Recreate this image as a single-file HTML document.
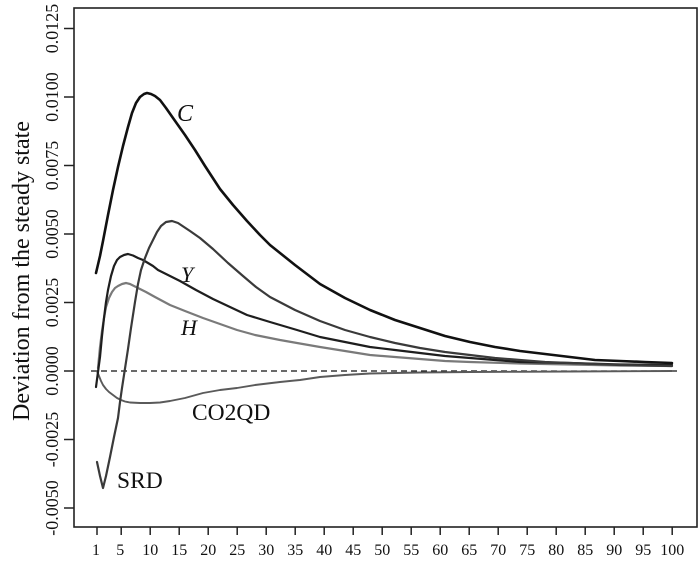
<!DOCTYPE html>
<html><head><meta charset="utf-8"><style>
html,body{margin:0;padding:0;background:#fff;}
svg{display:block;}
text{font-family:"Liberation Serif","Times New Roman",serif;fill:#111;}
</style></head><body>
<svg width="700" height="564" viewBox="0 0 700 564" xmlns="http://www.w3.org/2000/svg">
<rect x="0" y="0" width="700" height="564" fill="#fff"/>
<!-- box -->
<rect x="74" y="8" width="623" height="519" fill="none" stroke="#222" stroke-width="1.6"/>
<!-- y ticks -->
<g stroke="#222" stroke-width="1.5">
<line x1="64" y1="28.5" x2="74" y2="28.5"/>
<line x1="64" y1="97" x2="74" y2="97"/>
<line x1="64" y1="165.5" x2="74" y2="165.5"/>
<line x1="64" y1="234" x2="74" y2="234"/>
<line x1="64" y1="302.5" x2="74" y2="302.5"/>
<line x1="64" y1="371" x2="74" y2="371"/>
<line x1="64" y1="439.5" x2="74" y2="439.5"/>
<line x1="64" y1="508" x2="74" y2="508"/>
</g>
<g font-size="18" text-anchor="middle">
<text transform="translate(58,28.5) rotate(-90)">0.0125</text>
<text transform="translate(58,97) rotate(-90)">0.0100</text>
<text transform="translate(58,165.5) rotate(-90)">0.0075</text>
<text transform="translate(58,234) rotate(-90)">0.0050</text>
<text transform="translate(58,302.5) rotate(-90)">0.0025</text>
<text transform="translate(58,371) rotate(-90)">0.0000</text>
<text transform="translate(58,439.5) rotate(-90)">-0.0025</text>
<text transform="translate(58,508) rotate(-90)">-0.0050</text>
</g>
<text font-size="24" text-anchor="middle" transform="translate(29,271) rotate(-90)">Deviation from the steady state</text>
<!-- x ticks -->
<g stroke="#222" stroke-width="1.5">
<line x1="97" y1="527" x2="97" y2="535"/>
<line x1="121.2" y1="527" x2="121.2" y2="535"/>
<line x1="150.2" y1="527" x2="150.2" y2="535"/>
<line x1="179.2" y1="527" x2="179.2" y2="535"/>
<line x1="208.2" y1="527" x2="208.2" y2="535"/>
<line x1="237.2" y1="527" x2="237.2" y2="535"/>
<line x1="266.2" y1="527" x2="266.2" y2="535"/>
<line x1="295.2" y1="527" x2="295.2" y2="535"/>
<line x1="324.2" y1="527" x2="324.2" y2="535"/>
<line x1="353.2" y1="527" x2="353.2" y2="535"/>
<line x1="382.2" y1="527" x2="382.2" y2="535"/>
<line x1="411.2" y1="527" x2="411.2" y2="535"/>
<line x1="440.2" y1="527" x2="440.2" y2="535"/>
<line x1="469.2" y1="527" x2="469.2" y2="535"/>
<line x1="498.2" y1="527" x2="498.2" y2="535"/>
<line x1="527.2" y1="527" x2="527.2" y2="535"/>
<line x1="556.2" y1="527" x2="556.2" y2="535"/>
<line x1="585.2" y1="527" x2="585.2" y2="535"/>
<line x1="614.2" y1="527" x2="614.2" y2="535"/>
<line x1="643.2" y1="527" x2="643.2" y2="535"/>
<line x1="672.2" y1="527" x2="672.2" y2="535"/>
</g>
<g font-size="16" text-anchor="middle">
<text x="96" y="555">1</text>
<text x="120.2" y="555">5</text>
<text x="150.2" y="555">10</text>
<text x="179.2" y="555">15</text>
<text x="208.2" y="555">20</text>
<text x="237.2" y="555">25</text>
<text x="266.2" y="555">30</text>
<text x="295.2" y="555">35</text>
<text x="324.2" y="555">40</text>
<text x="353.2" y="555">45</text>
<text x="382.2" y="555">50</text>
<text x="411.2" y="555">55</text>
<text x="440.2" y="555">60</text>
<text x="469.2" y="555">65</text>
<text x="498.2" y="555">70</text>
<text x="527.2" y="555">75</text>
<text x="556.2" y="555">80</text>
<text x="585.2" y="555">85</text>
<text x="614.2" y="555">90</text>
<text x="643.2" y="555">95</text>
<text x="672.2" y="555">100</text>
</g>
<!-- zero line -->
<line x1="91" y1="371" x2="677" y2="371" stroke="#111" stroke-width="1.3" stroke-dasharray="6,4"/>
<g fill="none" stroke-linejoin="round" stroke-linecap="round">
<!-- CO2QD -->
<polyline stroke="#5a5a5a" stroke-width="1.9" points="97,371 99,376 101,381 103,385 106,389 109,392 113,395 117,398 121,400 125,401.5 130,402.5 140,403 150,403 160,402.5 170,401 185,398 203,393 220,390 237,388 255,385 280,382 300,380 320,377 345,375 370,373.5 395,373 420,372.5 470,372 520,371.8 570,371.5 672,371"/>
<!-- H -->
<polyline stroke="#7a7a7a" stroke-width="2.2" points="98,368 100,347 102,331 104,318 106,307 109,298 112,292 115,288 118,286 122,284 126,283 130,284 134,286 138,288 146,292 155,297 170,305 185,311 203,318 220,324 237,330 255,335 280,340 297,343 320,347 345,351 370,355 395,357 420,359 445,361 470,362 520,363.5 570,364.5 620,365.5 672,366"/>
<!-- Y -->
<polyline stroke="#1e1e1e" stroke-width="2.2" points="96,387 98,372 100,357 102,336 104,318 106,302 108,290 111,276 114,266 117,260 120,257 124,255 128,254 133,255.5 138,258 143,260 148,263 153,266 158,270 168,275 180,281 196,290 213,299 230,307 247,315 270,322 297,330 320,337 345,342 370,347 395,350 420,353 445,356 470,358 495,360 520,362 570,363 620,364.5 672,365"/>
<!-- SRD -->
<polyline stroke="#3a3a3a" stroke-width="2.2" points="97,462 100,476 103,488 106,476 110,457 114,437 118,418 120,402 122,388 124,375 126,362 128,349 131,328 135,302 138,284 141,270 145,258 149,248 153,240 157,232 161,226 166,222 172,221 178,223 184,227 190,231 200,238 213,249 228,263 243,276 256,287 270,297 295,310 320,321 345,330 370,337 395,343 420,348 445,352 470,355 495,358 520,360 545,362 570,363 620,365 672,366"/>
<!-- C -->
<polyline stroke="#111" stroke-width="2.6" points="96,273 100,256 103,241 108,215 113,190 118,167 123,146 128,127 132,113 136,103 140,97 144,94 147,93 151,94 155,96 160,100 166,108 173,118 185,135 195,150 205,166 220,189 233,205 247,221 260,235 270,245 280,253 295,265 320,284 345,298 370,310 395,320 420,328 445,336 470,342 495,347 520,351 545,354 570,357 595,360 620,361 645,362 672,363"/>
</g>
<!-- labels -->
<text x="177" y="121" font-size="24" font-style="italic">C</text>
<text x="181" y="282" font-size="22" font-style="italic">Y</text>
<text x="181" y="335" font-size="22" font-style="italic">H</text>
<text x="192" y="420" font-size="23.5">CO2QD</text>
<text x="117" y="488" font-size="23.5">SRD</text>
</svg>
</body></html>
